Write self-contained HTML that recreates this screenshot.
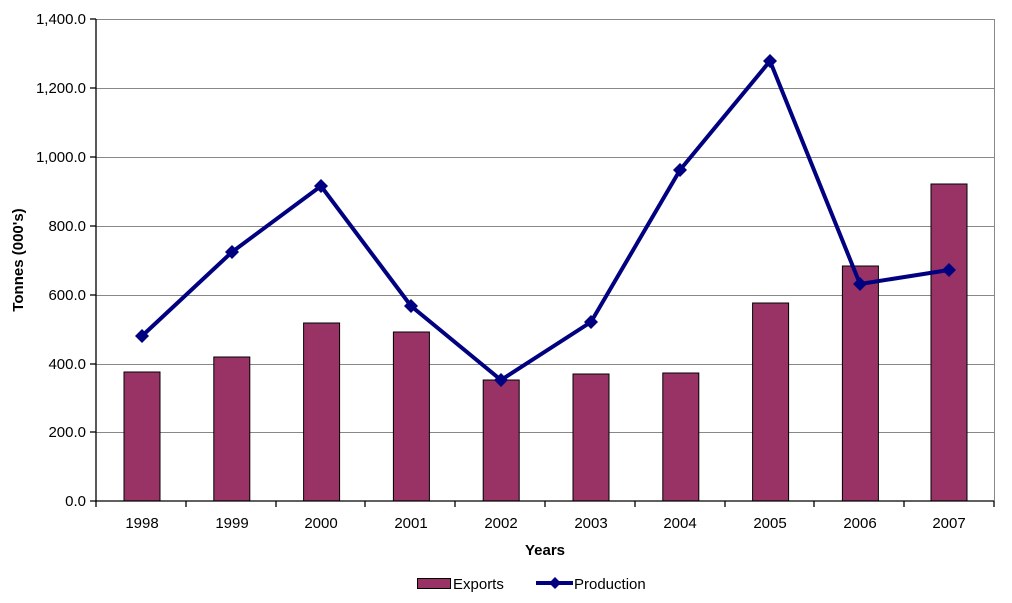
<!DOCTYPE html>
<html><head><meta charset="utf-8"><style>
html,body{margin:0;padding:0;background:#fff;}
svg{display:block;font-family:"Liberation Sans",Arial,sans-serif;}
</style></head><body>
<svg width="1012" height="603" viewBox="0 0 1012 603" xmlns="http://www.w3.org/2000/svg">
<g stroke="#888" stroke-width="1">
<line x1="96" y1="19.5" x2="994" y2="19.5"/>
<line x1="96" y1="88.5" x2="994" y2="88.5"/>
<line x1="96" y1="157.5" x2="994" y2="157.5"/>
<line x1="96" y1="226.5" x2="994" y2="226.5"/>
<line x1="96" y1="295.5" x2="994" y2="295.5"/>
<line x1="96" y1="364.5" x2="994" y2="364.5"/>
<line x1="96" y1="432.5" x2="994" y2="432.5"/>
<line x1="994.5" y1="19" x2="994.5" y2="501"/>
</g>
<g fill="#993366" stroke="#000" stroke-width="1">
<rect x="124" y="372" width="36" height="129"/>
<rect x="213.8" y="357" width="36" height="144"/>
<rect x="303.6" y="323" width="36" height="178"/>
<rect x="393.4" y="332" width="36" height="169"/>
<rect x="483.2" y="380" width="36" height="121"/>
<rect x="573" y="374" width="36" height="127"/>
<rect x="662.8" y="373" width="36" height="128"/>
<rect x="752.6" y="303" width="36" height="198"/>
<rect x="842.4" y="266" width="36" height="235"/>
<rect x="931" y="184" width="36" height="317"/>
</g>
<g stroke="#000" stroke-width="1.3">
<line x1="96" y1="19" x2="96" y2="502"/>
<line x1="90" y1="501" x2="994" y2="501"/>
<line x1="90" y1="19" x2="96" y2="19"/><line x1="90" y1="88" x2="96" y2="88"/>
<line x1="90" y1="157" x2="96" y2="157"/><line x1="90" y1="226" x2="96" y2="226"/>
<line x1="90" y1="295" x2="96" y2="295"/><line x1="90" y1="364" x2="96" y2="364"/>
<line x1="90" y1="432" x2="96" y2="432"/>
<line x1="96" y1="501" x2="96" y2="507"/><line x1="186" y1="501" x2="186" y2="507"/>
<line x1="276" y1="501" x2="276" y2="507"/><line x1="365" y1="501" x2="365" y2="507"/>
<line x1="455" y1="501" x2="455" y2="507"/><line x1="545" y1="501" x2="545" y2="507"/>
<line x1="635" y1="501" x2="635" y2="507"/><line x1="725" y1="501" x2="725" y2="507"/>
<line x1="814" y1="501" x2="814" y2="507"/><line x1="904" y1="501" x2="904" y2="507"/>
<line x1="994" y1="501" x2="994" y2="507"/>
</g>
<polyline fill="none" stroke="#000080" stroke-width="4" stroke-linejoin="miter" points="142,336 232,252 321,186 411,306 501,380 591,322 680,170 770,61 860,284 949,270"/>
<g fill="#000080">
<path d="M142,329l7,7l-7,7l-7,-7z"/><path d="M232,245l7,7l-7,7l-7,-7z"/>
<path d="M321,179l7,7l-7,7l-7,-7z"/><path d="M411,299l7,7l-7,7l-7,-7z"/>
<path d="M501,373l7,7l-7,7l-7,-7z"/><path d="M591,315l7,7l-7,7l-7,-7z"/>
<path d="M680,163l7,7l-7,7l-7,-7z"/><path d="M770,54l7,7l-7,7l-7,-7z"/>
<path d="M860,277l7,7l-7,7l-7,-7z"/><path d="M949,263l7,7l-7,7l-7,-7z"/>
</g>
<g font-size="15" fill="#000" text-anchor="end">
<text x="86" y="24">1,400.0</text><text x="86" y="93">1,200.0</text>
<text x="86" y="162">1,000.0</text><text x="86" y="231">800.0</text>
<text x="86" y="300">600.0</text><text x="86" y="369">400.0</text>
<text x="86" y="437">200.0</text><text x="86" y="506">0.0</text>
</g>
<g font-size="15" fill="#000" text-anchor="middle">
<text x="142" y="528">1998</text><text x="232" y="528">1999</text>
<text x="321" y="528">2000</text><text x="411" y="528">2001</text>
<text x="501" y="528">2002</text><text x="591" y="528">2003</text>
<text x="680" y="528">2004</text><text x="770" y="528">2005</text>
<text x="860" y="528">2006</text><text x="949" y="528">2007</text>
</g>
<text x="545" y="555" font-size="15" font-weight="bold" text-anchor="middle">Years</text>
<text transform="translate(23,260) rotate(-90)" font-size="15" font-weight="bold" text-anchor="middle">Tonnes (000's)</text>
<rect x="417.5" y="578.5" width="33" height="10" fill="#993366" stroke="#000"/>
<text x="453" y="589" font-size="15">Exports</text>
<line x1="536" y1="583" x2="573" y2="583" stroke="#000080" stroke-width="4"/>
<path d="M555,577l6,6l-6,6l-6,-6z" fill="#000080"/>
<text x="574" y="589" font-size="15">Production</text>
</svg>
</body></html>
